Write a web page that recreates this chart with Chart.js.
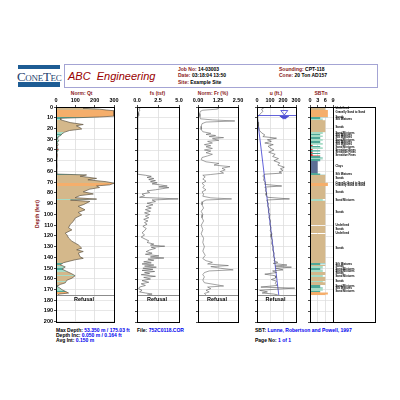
<!DOCTYPE html>
<html>
<head>
<meta charset="utf-8">
<script src="https://cdn.jsdelivr.net/npm/chart.js@4/dist/chart.umd.min.js"></script>
<style>
  body { margin: 0; width: 400px; height: 400px; background: #fff; position: relative; overflow: hidden;
         font-family: "Liberation Sans", Arial, sans-serif; }
  canvas { position: absolute; }
  .t { position: absolute; white-space: nowrap; line-height: 1; font-weight: bold; font-size: 5px; }
  .red { color: #8b1a1a; }
  .blue { color: #0000ee; }
  .c { transform: translateX(-50%); }
</style>
</head>
<body>

<!-- logo -->
<div style="position:absolute;left:18px;top:65px;width:42px;height:4px;background:#1d5c94"></div>
<div class="t" style="left:17px;top:70px;font-family:'Liberation Serif',serif;font-weight:normal;font-size:13px;font-variant:small-caps;color:#1d3f6e;letter-spacing:-0.3px">ConeTec</div>
<div style="position:absolute;left:18px;top:82px;width:42px;height:5px;background:#1d5c94"></div>

<!-- header box -->
<div style="position:absolute;left:64px;top:64px;width:312px;height:22px;border:1px solid #a4a4d4"></div>
<div class="t" style="left:68px;top:71px;font-size:11px;font-weight:normal;font-style:italic;color:#990000">ABC&nbsp; Engineering</div>
<div class="t" style="left:178px;top:66.5px"><span class="red">Job No:</span> 14-03003</div>
<div class="t" style="left:178px;top:73.2px"><span class="red">Date:</span> 03:18:04 13:50</div>
<div class="t" style="left:178px;top:79.8px"><span class="red">Site:</span> Example Site</div>
<div class="t" style="left:279px;top:66.5px"><span class="red">Sounding:</span> CPT-118</div>
<div class="t" style="left:279px;top:73.2px"><span class="red">Cone:</span> 20 Ton AD157</div>

<!-- panel titles -->
<div class="t red c" style="left:81.7px;top:90.8px">Norm: Qt</div>
<div class="t red c" style="left:157.5px;top:90.8px">fs (tsf)</div>
<div class="t red c" style="left:213px;top:90.8px">Norm: Fr (%)</div>
<div class="t red c" style="left:276px;top:90.8px">u (ft.)</div>
<div class="t red c" style="left:321px;top:90.8px">SBTn</div>

<div class="t red" style="left:37px;top:214px;transform:translate(-50%,-50%) rotate(-90deg)">Depth (feet)</div>

<canvas id="qt"></canvas>
<canvas id="fs"></canvas>
<canvas id="fr"></canvas>
<canvas id="u"></canvas>
<canvas id="sbt"></canvas>

<!-- footer -->
<div class="t" style="left:56px;top:327.5px">Max Depth: <span class="blue">53.350 m / 175.03 ft</span></div>
<div class="t" style="left:56px;top:333px">Depth Inc: <span class="blue">0.050 m / 0.164 ft</span></div>
<div class="t" style="left:56px;top:338px">Avg Int: <span class="blue">0.150 m</span></div>
<div class="t" style="left:137px;top:327.5px">File: <span class="blue">752C0118.COR</span></div>
<div class="t" style="left:255px;top:327.5px">SBT: <span class="blue">Lunne, Robertson and Powell, 1997</span></div>
<div class="t" style="left:255px;top:338px">Page No: <span class="blue">1 of 1</span></div>

<script>
// 深度・軸目盛
const depthTicks = [0, 10, 20, 30, 40, 50, 60, 70, 80, 90, 100, 110, 120, 130, 140, 150, 160, 170, 180, 190, 200];
const qtTicks = [0, 100, 200, 300];
const fsTicks = [0, 2.5, 5];
const frTicks = [0, 1.25, 2.5];
const uTicks = [0, 100, 200, 300];
const sbtTicks = [0, 3, 6, 9];

const refusalDepth = 175;
const waterDepth = 7.4;
const waterMarkU = 210;

// Norm: Qt
const qtDepth = [
  0, 0.5, 1.2, 2, 2.8, 3.5, 8.5, 9.3, 10.5, 12,
  14.5, 16.3, 17.5, 19.2, 20.5, 21.9, 23.4, 25, 26.5, 27.6,
  30, 31.5, 33, 35, 37, 40, 42, 45, 50, 55,
  60, 62.5, 63.3, 64.5, 66.5, 67.8, 69.6, 71, 72.5, 73.5,
  75, 76.5, 79, 81, 82.5, 84.5, 85.8, 86.7, 88, 91,
  92.5, 95.8, 98.2, 100.5, 103.5, 106.5, 109.5, 112.5, 114.5, 117.5,
  119, 122, 125, 128.5, 131.5, 133, 134.6, 136, 139.5, 141,
  142.3, 145, 147, 149, 151, 153.2, 155.4, 157.2, 159.5, 161.4,
  163.8, 165.3, 167, 168.5, 170.2, 171.7, 173.3, 174.2, 174.9,
];
const qtValue = [
  60, 170, 140, 225, 260, 300, 300, 225, 22, 25,
  73, 141, 105, 124, 133, 70, 45, 31, 25, 12,
  8, 14, 6, 11, 6, 12, 5, 7, 5, 6,
  5, 6, 158, 125, 210, 165, 260, 300, 278, 210,
  225, 175, 141, 193, 124, 99, 210, 75, 175, 141,
  115, 150, 115, 133, 99, 90, 73, 65, 82, 48,
  56, 65, 82, 116, 133, 107, 141, 116, 124, 141,
  99, 39, 22, 48, 31, 56, 82, 99, 82, 56,
  48, 22, 5, 19, 31, 48, 65, 20, 10,
];

// fs (tsf)
const fsDepth = [
  0, 1, 2, 3, 5, 8, 10, 12, 20, 30,
  40, 50, 60, 62.5, 63.5, 64.5, 65.5, 66.5, 67.5, 68.5,
  69.5, 70.5, 71.5, 72.5, 73.5, 74.3, 75, 76, 77, 78,
  79.5, 81, 82.5, 84, 85.5, 86.5, 88, 89.5, 91, 92.5,
  94, 95.5, 97, 98.5, 100, 101.5, 103, 104.5, 106, 107.5,
  109, 111, 113, 115, 117, 119, 121, 123, 124.5, 126,
  127.5, 128.5, 129.5, 130.5, 131.5, 133, 134.5, 136, 137, 138.5,
  139.5, 140.5, 141.5, 142.5, 144, 145, 146, 147, 148, 149,
  150, 151, 152, 153, 154, 155, 156, 157.5, 158.5, 160,
  161.5, 163, 164.5, 166, 167.5, 169, 170.5, 172, 173, 174, 174.8,
];
const fsValue = [
  0.3, 0.4, 0.2, 0.35, 0.15, 0.2, 0.1, 0.05, 0.05, 0.08,
  0.06, 0.05, 0.06, 0.1, 1.0, 1.7, 1.2, 2.0, 1.4, 2.2,
  1.6, 2.4, 1.8, 2.8, 3.6, 2.6, 3.8, 3.0, 2.2, 1.2,
  1.5, 0.6, 0.9, 0.3, 4.9, 1.8, 2.2, 1.2, 1.9, 1.1,
  1.7, 1.0, 1.6, 0.9, 1.5, 1.0, 1.4, 0.8, 1.3, 0.9,
  1.2, 0.7, 1.1, 0.9, 0.6, 0.9, 0.5, 1.0, 1.4, 1.2,
  2.0, 1.6, 3.3, 1.7, 2.2, 1.5, 1.1, 1.8, 1.0, 2.6,
  1.6, 3.2, 1.3, 2.0, 0.8, 1.7, 0.6, 2.0, 0.9, 2.3,
  0.7, 1.9, 0.6, 2.1, 0.9, 1.5, 0.5, 2.2, 0.8, 1.6,
  0.6, 1.4, 0.5, 1.0, 0.3, 0.2, 0.6, 0.3, 1.0, 1.8, 1.2,
];

// Norm: Fr (%)
const frDepth = [
  0, 1, 2, 3, 4, 6, 9, 11, 12, 13,
  14, 15.5, 18, 21, 23, 24.5, 25.5, 26.5, 27.5, 28.5,
  29.5, 31, 32, 33.5, 35, 36, 37, 38.5, 40, 41,
  42.5, 44, 45.5, 47, 49, 51, 52.5, 54, 55.5, 57,
  58.5, 60, 61.5, 62.8, 63.5, 65, 67, 69, 71, 73,
  75, 77, 79, 81, 83, 84.5, 85.5, 86.5, 88, 91,
  94, 97, 100, 103, 106, 110, 114, 118, 122, 126,
  130, 134, 138, 141, 143, 144.5, 146, 147.5, 148.5, 150,
  151.5, 152.5, 154, 156, 158, 161, 163.5, 166.5, 167.5, 169,
  170.5, 172, 173.5, 174.8,
];
const frValue = [
  0.9, 1.3, 1.2, 0.3, 0.15, 0.1, 0.12, 0.15, 0.9, 2.3,
  0.5, 0.25, 0.2, 0.2, 0.3, 0.8, 0.5, 1.1, 0.7, 1.6,
  0.9, 1.3, 0.6, 0.9, 0.4, 0.8, 0.5, 0.9, 0.4, 0.8,
  0.5, 0.9, 0.6, 0.25, 0.2, 0.5, 1.3, 1.0, 2.0, 1.5,
  1.7, 1.4, 1.6, 0.8, 0.3, 0.45, 0.3, 0.5, 0.25, 0.4,
  0.3, 0.5, 0.25, 0.35, 0.3, 0.8, 2.1, 0.5, 0.3, 0.25,
  0.35, 0.2, 0.3, 0.25, 0.35, 0.2, 0.3, 0.2, 0.35, 0.3,
  0.4, 0.3, 0.45, 0.3, 0.5, 0.9, 0.6, 1.9, 0.8, 1.4,
  2.2, 0.7, 0.4, 0.3, 0.4, 0.3, 0.4, 1.6, 0.6, 0.8,
  0.5, 0.7, 0.4, 0.5,
];

// u (ft.) 実測間隙水圧
const uDepth = [
  0, 1, 2, 4, 6, 8, 10, 14, 18, 22,
  24, 26, 27.5, 29, 30.5, 32, 33.5, 35, 36.5, 38,
  40, 42, 44, 46, 48, 50, 52, 54, 56, 57.5,
  59, 60.5, 61.5, 62.5, 64, 66, 68, 70, 72, 73.5,
  74.5, 76, 78, 80, 82, 84, 85.5, 86.5, 88, 90,
  92, 95, 98, 100, 103, 106, 109, 112, 115, 118,
  121, 124, 127, 130, 133, 136, 139, 141, 143, 144.5,
  145.5, 147, 148, 149, 150, 151.5, 152.5, 154, 155.5, 157,
  159, 160.5, 162, 164, 166, 167.5, 168.5, 169.5, 170.5, 172,
  173, 174, 174.8,
];
const uValue = [
  20, 50, 35, 45, 30, 10, 5, 8, 12, 20,
  35, 60, 45, 150, 80, 110, 60, 125, 85, 100,
  130, 90, 140, 120, 165, 130, 175, 160, 210, 180,
  200, 170, 190, 60, 45, 55, 50, 65, 60, 190,
  60, 70, 65, 75, 70, 80, 250, 75, 80, 88,
  82, 95, 88, 100, 92, 105, 98, 108, 102, 115,
  108, 118, 112, 125, 120, 132, 125, 138, 130, 160,
  125, 230, 140, 265, 145, 200, 120, 150, 60, 140,
  145, 110, 150, 140, 155, 30, 290, 150, 20, 80,
  40, 130, 160,
];

// 静水圧 u0
const u0Depth = [7.4, 175];
const u0Value = [0, 167.6];

// SBTn 層区分（上端深度とゾーン番号）
const sbtTop = [
  0, 2.8, 9.5, 11, 12.3, 23.5, 25, 26.5, 28, 29.7,
  31.5, 33.5, 35, 36.2, 37.5, 39, 40.3, 41.5, 42.7, 43.8,
  45.2, 47, 48.5, 50.4, 61.8, 63, 70.5, 73.5, 85.5, 87,
  109.7, 110.3, 117.2, 117.8, 145.5, 146.8, 148, 150, 151.5, 153.5,
  156.3, 157.8, 162, 163, 165.5, 168, 171, 172.5, 174.5,
];
const sbtZone = [
  6, 7, 4, 5, 6, 5, 4, 5, 4, 5,
  4, 5, 1, 4, 5, 1, 4, 1, 4, 1,
  4, 5, 4, 3, 4, 6, 7, 6, 5, 6,
  0, 6, 0, 6, 4, 6, 5, 4, 5, 6,
  5, 6, 5, 6, 4, 5, 4, 7, 6,
];

// SBT 凡例ラベル
const sbtLabelDepth = [
  1, 5, 9.6, 11.8, 19, 24, 26, 28, 30.7, 32.9,
  35, 37.8, 40, 42.2, 44.5, 55.5, 62.6, 66.4, 71, 73,
  79.4, 86.3, 98, 110, 113.5, 117.5, 131.5, 146.3, 148.5, 150.7,
  152.6, 154.7, 157, 162.5, 166.5, 168.7, 171.8,
];
const sbtLabelText = [
  'Undefined', 'Gravelly Sand to Sand', 'Sands', 'Silt Mixtures', 'Sands', 'Sand Mixtures', 'Silt Mixtures', 'Silt Mixtures', 'Sand Mixtures', 'Silt Mixtures',
  'Silt Mixtures', 'Sand Mixtures', 'Sensitive Fines', 'Sensitive Fines', 'Sensitive Fines', 'Clays', 'Silt Mixtures', 'Sands', 'Gravelly Sand to Sand', 'Gravelly Sand to Sand',
  'Sands', 'Sand Mixtures', 'Sands', 'Undefined', 'Sands', 'Undefined', 'Sands', 'Silt Mixtures', 'Sands', 'Sand Mixtures',
  'Sand Mixtures', 'Sands', 'Sand Mixtures', 'Sands', 'Sand Mixtures', 'Silt Mixtures', 'Sand Mixtures',
];

// ゾーン色（0 = 未定義）
const ZONE_COLORS = ['#ffffff', '#d8312a', '#8b5a2b', '#5c6f95', '#4fa898', '#a6dcc6', '#d4b88b', '#f5ae6b', '#bbbbbb', '#999999'];

const FONT = '"Liberation Sans", Arial, sans-serif';
const PAD_L = 8;

const pts = (ds, vs) => ds.map((d, i) => ({ x: vs[i], y: d }));

// SBT層に合わせた縦方向グラデーション
function zoneGradient(context) {
  const chart = context.chart;
  const { chartArea, scales } = chart;
  if (!chartArea || !scales.y) return ZONE_COLORS[6];
  const y = scales.y;
  const top = y.getPixelForValue(0);
  const bot = y.getPixelForValue(200);
  const g = chart.ctx.createLinearGradient(0, top, 0, bot);
  for (let i = 0; i < sbtTop.length; i++) {
    const d0 = sbtTop[i];
    const d1 = i + 1 < sbtTop.length ? sbtTop[i + 1] : 200;
    const col = ZONE_COLORS[sbtZone[i]];
    g.addColorStop(d0 / 200, col);
    g.addColorStop(d1 / 200, col);
  }
  return g;
}

const framePlugin = {
  id: 'frame',
  afterDraw(chart) {
    const { ctx, chartArea: a } = chart;
    ctx.save();
    ctx.strokeStyle = '#000';
    ctx.lineWidth = 1;
    ctx.strokeRect(Math.round(a.left) + 0.5, Math.round(a.top) + 0.5, Math.round(a.right - a.left), Math.round(a.bottom - a.top));
    ctx.restore();
  },
};

const refusalPlugin = {
  id: 'refusal',
  afterDatasetsDraw(chart) {
    const { ctx, chartArea: a, scales: { y } } = chart;
    const py = Math.round(y.getPixelForValue(refusalDepth)) + 0.5;
    ctx.save();
    ctx.strokeStyle = '#8c8c8c';
    ctx.lineWidth = 1;
    ctx.beginPath();
    ctx.moveTo(a.left, py);
    ctx.lineTo(a.right, py);
    ctx.stroke();
    ctx.fillStyle = '#000';
    ctx.font = `bold 5.5px ${FONT}`;
    ctx.textAlign = 'center';
    ctx.textBaseline = 'top';
    ctx.fillText('Refusal', (a.left + a.right) / 2 - 1, py + 1.5);
    ctx.restore();
  },
};

const waterPlugin = {
  id: 'water',
  afterDatasetsDraw(chart) {
    const { ctx, chartArea: a, scales: { x, y } } = chart;
    const py = Math.round(y.getPixelForValue(waterDepth)) + 0.5;
    const px = x.getPixelForValue(waterMarkU);
    ctx.save();
    ctx.strokeStyle = '#3b3bd0';
    ctx.fillStyle = '#3b3bd0';
    ctx.lineWidth = 0.8;
    ctx.beginPath();
    ctx.moveTo(a.left, py);
    ctx.lineTo(a.right, py);
    ctx.stroke();
    // 水位マーク
    ctx.beginPath();
    ctx.moveTo(px - 3.5, py - 5);
    ctx.lineTo(px + 3.5, py - 5);
    ctx.lineTo(px, py - 0.5);
    ctx.closePath();
    ctx.stroke();
    [4.5, 3.2, 2].forEach((hw, i) => {
      ctx.fillRect(px - hw, py + 0.5 + i * 1.1, hw * 2, 0.9);
    });
    ctx.restore();
  },
};

const LABEL_BOX_W = 42;
const sbtLabelPlugin = {
  id: 'sbtLabels',
  afterDraw(chart) {
    const { ctx, chartArea: a, scales: { y } } = chart;
    const bx = Math.round(a.right) + 0.5;
    ctx.save();
    ctx.strokeStyle = '#000';
    ctx.lineWidth = 1;
    ctx.strokeRect(bx, Math.round(a.top) + 0.5, LABEL_BOX_W, Math.round(a.bottom - a.top));
    ctx.fillStyle = '#000';
    ctx.font = `bold 2.8px ${FONT}`;
    ctx.textAlign = 'left';
    ctx.textBaseline = 'middle';
    sbtLabelDepth.forEach((d, i) => {
      ctx.fillText(sbtLabelText[i], bx + 2, y.getPixelForValue(d));
    });
    ctx.restore();
  },
};

function makePanel(id, left, right, opt) {
  const yW = opt.depthLabels ? 22 : 3;
  const padR = opt.padRight || 8;
  const canvas = document.getElementById(id);
  const w = right - left + PAD_L + yW + padR;
  const h = 231;
  canvas.width = w;
  canvas.height = h;
  canvas.style.width = w + 'px';
  canvas.style.height = h + 'px';
  canvas.style.left = (left - PAD_L - yW) + 'px';
  canvas.style.top = '95px';

  return new Chart(canvas.getContext('2d'), {
    type: 'line',
    data: { datasets: opt.datasets },
    options: {
      responsive: false,
      animation: false,
      devicePixelRatio: 1,
      indexAxis: 'y',
      layout: { padding: { left: PAD_L, right: padR, top: 0, bottom: 4 } },
      plugins: { legend: { display: false }, tooltip: { enabled: false } },
      elements: { point: { radius: 0 }, line: { tension: 0 } },
      scales: {
        x: {
          type: 'linear',
          position: 'top',
          min: opt.ticks[0],
          max: opt.ticks[opt.ticks.length - 1],
          afterBuildTicks: (s) => { s.ticks = opt.ticks.map((v) => ({ value: v })); },
          afterFit: (s) => { s.height = 12; },
          ticks: {
            color: '#000',
            font: { family: FONT, size: 5.5, weight: 'bold' },
            padding: 1,
            maxRotation: 0,
            autoSkip: false,
            callback: (v) => Number(v).toFixed(opt.decimals || 0),
          },
          grid: { color: '#d9d9d9', lineWidth: 0.7, tickLength: 2, tickColor: '#000' },
          border: { color: '#000' },
        },
        y: {
          type: 'linear',
          reverse: true,
          min: 0,
          max: 200,
          afterBuildTicks: (s) => { s.ticks = depthTicks.map((v) => ({ value: v })); },
          afterFit: (s) => { s.width = yW; },
          ticks: {
            display: !!opt.depthLabels,
            color: '#000',
            font: { family: FONT, size: 5.5, weight: 'bold' },
            padding: 1,
          },
          grid: { color: '#dcdcdc', lineWidth: 0.7, tickLength: 2, tickColor: '#000' },
          border: { color: '#000' },
        },
      },
    },
    plugins: [framePlugin, ...(opt.plugins || [])],
  });
}

makePanel('qt', 56, 114, {
  depthLabels: true,
  ticks: qtTicks,
  datasets: [{
    data: pts(qtDepth, qtValue),
    borderColor: '#5e5444',
    borderWidth: 0.7,
    backgroundColor: zoneGradient,
    fill: 'origin',
  }],
  plugins: [refusalPlugin],
});

makePanel('fs', 137, 179, {
  ticks: fsTicks,
  decimals: 1,
  datasets: [{ data: pts(fsDepth, fsValue), borderColor: '#555', borderWidth: 0.6, fill: false }],
  plugins: [refusalPlugin],
});

makePanel('fr', 198, 238, {
  ticks: frTicks,
  decimals: 2,
  datasets: [{ data: pts(frDepth, frValue), borderColor: '#666', borderWidth: 0.6, fill: false }],
  plugins: [refusalPlugin],
});

makePanel('u', 257, 296, {
  ticks: uTicks,
  datasets: [
    { data: pts(uDepth, uValue), borderColor: '#555', borderWidth: 0.6, fill: false },
    { data: pts(u0Depth, u0Value), borderColor: '#3b3bd0', borderWidth: 0.8, fill: false },
  ],
  plugins: [refusalPlugin, waterPlugin],
});

makePanel('sbt', 310, 333, {
  ticks: sbtTicks,
  padRight: LABEL_BOX_W + 4,
  datasets: [{
    data: pts(sbtTop, sbtZone).concat([{ x: 0, y: refusalDepth }]),
    stepped: 'after',
    borderColor: 'rgba(0,0,0,0)',
    borderWidth: 0,
    backgroundColor: zoneGradient,
    fill: 'origin',
  }],
  plugins: [sbtLabelPlugin],
});
</script>
</body>
</html>
